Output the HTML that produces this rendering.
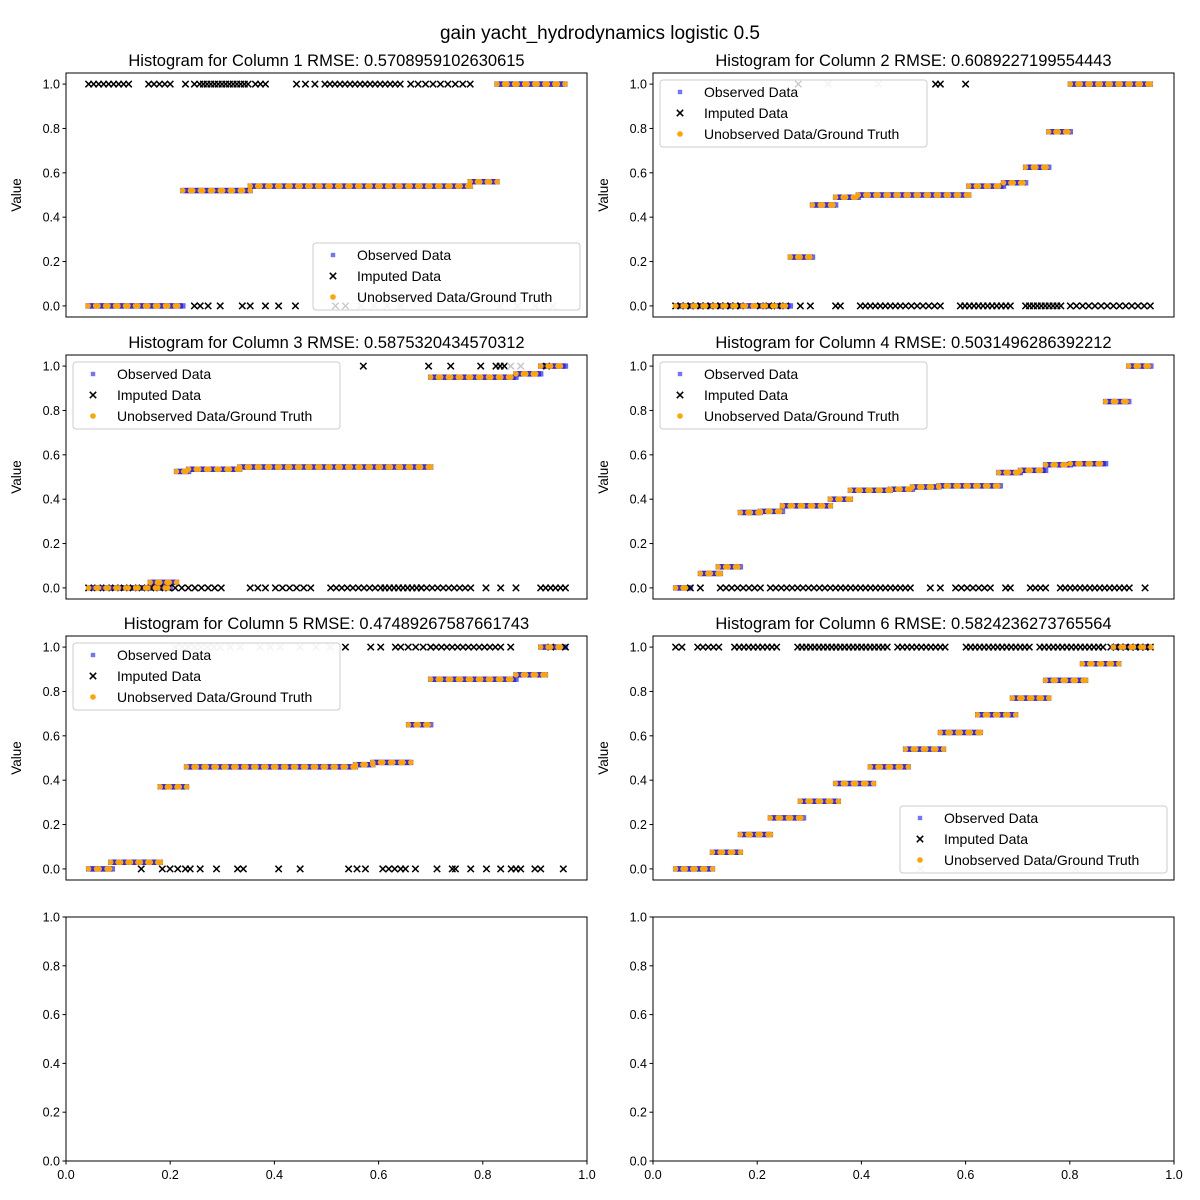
<!DOCTYPE html>
<html><head><meta charset="utf-8">
<style>
body{margin:0;background:#fff;}
svg{display:block;font-family:"Liberation Sans","DejaVu Sans",sans-serif;}
</style></head>
<body>
<svg id="chart" width="1200" height="1200" viewBox="0 0 1200 1200" xmlns="http://www.w3.org/2000/svg">
<rect width="1200" height="1200" fill="#fff"/>
<text x="600" y="39" font-size="19" text-anchor="middle">gain yacht_hydrodynamics logistic 0.5</text>
</svg>
<script>
// Segments: [xStart, xEnd, level]
const seg1 = [[0.047,0.227,0],[0.227,0.355,0.52],[0.355,0.773,0.54],[0.773,0.824,0.56],[0.824,0.953,1.0]];
const seg2 = [[0.048,0.266,0],[0.266,0.308,0.22],[0.308,0.352,0.455],[0.352,0.395,0.49],[0.395,0.605,0.50],[0.605,0.671,0.54],[0.671,0.713,0.555],[0.713,0.757,0.625],[0.757,0.798,0.785],[0.798,0.95,1.0]];
const seg3 = [[0.048,0.203,0],[0.165,0.215,0.025],[0.215,0.238,0.525],[0.238,0.335,0.535],[0.335,0.698,0.545],[0.698,0.86,0.95],[0.86,0.907,0.965],[0.907,0.954,1.0]];
const seg4 = [[0.048,0.076,0],[0.095,0.133,0.065],[0.129,0.171,0.095],[0.171,0.209,0.34],[0.209,0.251,0.345],[0.251,0.342,0.37],[0.342,0.38,0.40],[0.38,0.456,0.44],[0.456,0.498,0.445],[0.498,0.548,0.455],[0.548,0.665,0.46],[0.662,0.703,0.52],[0.703,0.751,0.53],[0.751,0.798,0.555],[0.798,0.865,0.56],[0.865,0.909,0.84],[0.909,0.951,1.0]];
const seg5 = [[0.048,0.093,0],[0.09,0.184,0.03],[0.184,0.234,0.37],[0.234,0.555,0.46],[0.555,0.588,0.47],[0.588,0.66,0.48],[0.656,0.698,0.65],[0.698,0.86,0.855],[0.86,0.916,0.875],[0.907,0.954,1.0]];
const seg6 = [[0.048,0.118,0],[0.118,0.171,0.075],[0.171,0.228,0.155],[0.228,0.291,0.23],[0.285,0.357,0.305],[0.352,0.424,0.385],[0.418,0.49,0.46],[0.485,0.557,0.54],[0.551,0.627,0.615],[0.622,0.694,0.695],[0.688,0.757,0.77],[0.751,0.827,0.85],[0.821,0.89,0.925],[0.88,0.951,1.0]];
// Imputed clusters: [xStart, xEnd, level, count, gray(1)/black(0)]
const imp1 = [[0.048,0.124,1,9,0],[0.162,0.203,1,5,0],[0.232,0.249,1,2,0],[0.259,0.351,1,14,0],[0.365,0.384,1,3,0],[0.443,0.46,1,2,0],[0.478,0.478,1,1,0],[0.497,0.64,1,16,0],[0.66,0.773,1,9,0],
  [0.249,0.26,0,2,0],[0.275,0.298,0,2,0],[0.34,0.34,0,1,0],[0.355,0.355,0,1,0],[0.384,0.384,0,1,0],[0.409,0.409,0,1,0],[0.441,0.441,0,1,0],[0.517,0.536,0,2,0],[0.565,0.64,0,4,1],[0.83,0.93,0,4,1]];
const imp2 = [[0.281,0.281,1,1,0],[0.338,0.338,1,1,1],[0.433,0.433,1,1,1],[0.542,0.551,1,2,0],[0.599,0.599,1,1,0],
  [0.048,0.171,0,14,0],[0.209,0.257,0,4,0],[0.285,0.304,0,2,0],[0.352,0.361,0,2,0],[0.399,0.475,0,9,0],[0.485,0.551,0,7,0],[0.589,0.684,0,12,0],[0.713,0.78,0,10,0],[0.798,0.95,0,14,0]];
const imp3 = [[0.57,0.57,1,1,0],[0.694,0.694,1,1,0],[0.736,0.736,1,1,0],[0.793,0.793,1,1,0],[0.822,0.838,1,3,0],[0.85,0.869,1,2,1],[0.918,0.918,1,1,0],
  [0.048,0.2,0,10,0],[0.2,0.3,0,9,0],[0.355,0.384,0,3,0],[0.403,0.47,0,6,0],[0.508,0.603,0,10,0],[0.611,0.68,0,9,0],[0.68,0.774,0,10,0],[0.803,0.803,0,1,0],[0.831,0.831,0,1,0],[0.86,0.86,0,1,0],[0.907,0.954,0,6,0]];
const imp4 = [[0.076,0.095,0,2,0],[0.133,0.209,0,8,0],[0.228,0.342,0,12,0],[0.352,0.494,0,16,0],[0.532,0.532,0,1,0],[0.551,0.551,0,1,0],[0.58,0.646,0,7,0],[0.675,0.675,0,1,0],[0.684,0.684,0,1,0],[0.722,0.751,0,4,0],[0.779,0.91,0,15,0],[0.94,0.94,0,1,0]];
const imp5 = [[0.213,0.298,1,8,1],[0.317,0.317,1,1,1],[0.336,0.336,1,1,1],[0.374,0.412,1,3,1],[0.45,0.45,1,1,1],[0.48,0.48,1,1,1],[0.507,0.507,1,1,1],[0.536,0.536,1,1,0],[0.584,0.584,1,1,0],[0.603,0.631,1,2,0],[0.641,0.698,1,5,0],[0.698,0.831,1,14,0],[0.85,0.85,1,1,0],[0.926,0.954,1,2,0],
  [0.148,0.148,0,1,0],[0.188,0.232,0,4,0],[0.241,0.26,0,2,0],[0.291,0.291,0,1,0],[0.331,0.342,0,2,0],[0.409,0.409,0,1,0],[0.45,0.45,0,1,0],[0.542,0.574,0,3,0],[0.607,0.641,0,4,0],[0.65,0.669,0,2,0],[0.71,0.71,0,1,0],[0.739,0.745,0,2,0],[0.774,0.774,0,1,0],[0.804,0.804,0,1,0],[0.831,0.831,0,1,0],[0.851,0.869,0,3,0],[0.896,0.907,0,2,0],[0.95,0.95,0,1,0]];
const imp6 = [[0.048,0.06,1,2,0],[0.09,0.13,1,5,0],[0.16,0.24,1,10,0],[0.28,0.45,1,22,0],[0.47,0.56,1,11,0],[0.6,0.72,1,15,0],[0.74,0.86,1,15,0],[0.875,0.95,1,9,0],
  [0.513,0.513,0,1,1],[0.808,0.808,0,1,1]];
const rmse = ["0.5708959102630615","0.6089227199554443","0.5875320434570312","0.5031496286392212","0.47489267587661743","0.5824236273765564"];
const legendPos = ["lr","ul","ul","ul","ul","lr"];
const yTicks = [0,0.2,0.4,0.6,0.8,1.0];
const xTicks = [0,0.2,0.4,0.6,0.8,1.0];

const NS="http://www.w3.org/2000/svg";
const svg=document.getElementById('chart');
function mk(tag,attrs,parent){const e=document.createElementNS(NS,tag);for(const k in attrs)e.setAttribute(k,attrs[k]);(parent||svg).appendChild(e);return e;}
const W=521,H=244,lefts=[66,653],tops=[73,355,636,917];
const segs=[seg1,seg2,seg3,seg4,seg5,seg6], imps=[imp1,imp2,imp3,imp4,imp5,imp6];

function drawX(g,cx,cy,color){
  const p=mk('path',{d:`M${cx-3.2},${cy-3.2}L${cx+3.2},${cy+3.2}M${cx-3.2},${cy+3.2}L${cx+3.2},${cy-3.2}`,stroke:color,'stroke-width':1.5,fill:'none'},g);
  
  
}

for(let i=0;i<8;i++){
  const col=i%2,row=Math.floor(i/2),L=lefts[col],T=tops[row];
  const empty=i>=6;
  const x0=empty?0:0.005,x1=empty?1:0.995,y0=empty?0:-0.05,y1=empty?1:1.05;
  const xs=d=>L+(d-x0)/(x1-x0)*W, ys=v=>T+H-(v-y0)/(y1-y0)*H;
  const g=mk('g',{});
  
  
  mk('rect',{x:L,y:T,width:W,height:H,fill:'#fff'},g);
  if(!empty){
    const t=mk('text',{x:L+W/2,y:T-7,'font-size':16.5,'text-anchor':'middle'},g);
    t.textContent='Histogram for Column '+(i+1)+' RMSE: '+rmse[i];
    
    
    const yl=mk('text',{x:L-45,y:T+H/2,'font-size':13.5,'text-anchor':'middle',transform:`rotate(-90 ${L-45} ${T+H/2})`},g);
    yl.textContent='Value';
    
    
    segs[i].forEach(s=>{
      const px0=xs(s[0]),px1=xs(s[1]),n=Math.max(1,Math.round((px1-px0)/2.5));
      for(let k=0;k<=n;k++){const px=px0+(px1-px0)*k/n;
        const r=mk('rect',{x:px-2.7,y:ys(s[2])-2.7,width:5.4,height:5.4,fill:'#0000ff','fill-opacity':0.6},g);
        
        }
    });
    imps[i].forEach(m=>{
      for(let k=0;k<m[3];k++){const d=m[3]===1?m[0]:m[0]+(m[1]-m[0])*k/(m[3]-1);
        drawX(g,xs(d),ys(m[2]),m[4]?'#c8c8c8':'#000');}
    });
    segs[i].forEach(s=>{
      const px0=xs(s[0]),px1=xs(s[1]),n=Math.max(1,Math.round((px1-px0)/2.5));
      for(let k=0;k<=n;k++){if(k%4===1||k%4===2)continue;const px=px0+(px1-px0)*k/n;
        const c=mk('circle',{cx:px,cy:ys(s[2]),r:2.8,fill:'#ffa500'},g);
        
        }
    });
  }
  mk('rect',{x:L,y:T,width:W,height:H,fill:'none',stroke:'#000','stroke-width':1},g);
  yTicks.forEach(v=>{const y=ys(v);
    mk('line',{x1:L-3.5,x2:L,y1:y,y2:y,stroke:'#000'},g);
    const t=mk('text',{x:L-6,y:y+4.5,'font-size':12.5,'text-anchor':'end'},g);t.textContent=v.toFixed(1);
    
    });
  if(empty){xTicks.forEach(v=>{const x=xs(v);
    mk('line',{x1:x,x2:x,y1:T+H,y2:T+H+3.5,stroke:'#000'},g);
    const t=mk('text',{x:x,y:T+H+18,'font-size':12.5,'text-anchor':'middle'},g);t.textContent=v.toFixed(1);
    
    });}
  if(!empty){
    const lw=267,lh=67,lx=legendPos[i]==='ul'?L+7:L+W-7-lw,ly=legendPos[i]==='ul'?T+7:T+H-7-lh;
    const lg=mk('g',{},g);
    
    
    mk('rect',{x:lx,y:ly,width:lw,height:lh,rx:3,fill:'#fff','fill-opacity':0.8,stroke:'#ccc'},lg);
    const labels=['Observed Data','Imputed Data','Unobserved Data/Ground Truth'];
    labels.forEach((lab,k)=>{const cy=ly+12+k*21,mx=lx+20;
      if(k===0)mk('rect',{x:mx-2.2,y:cy-2.2,width:4.4,height:4.4,fill:'#0000ff','fill-opacity':0.55},lg);
      if(k===1)drawX(lg,mx,cy,'#000');
      if(k===2)mk('circle',{cx:mx,cy:cy,r:2.8,fill:'#ffa500'},lg);
      const t=mk('text',{x:lx+44,y:cy+5,'font-size':14},lg);t.textContent=lab;
      
      });
  }
}
</script>
</body></html>
